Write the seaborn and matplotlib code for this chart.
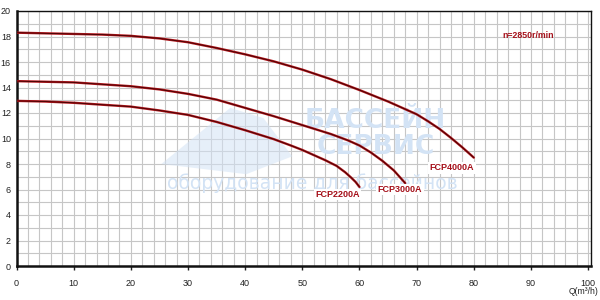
import matplotlib
matplotlib.use("Agg")
import matplotlib.pyplot as plt
from matplotlib.patches import Polygon
import seaborn as sns
import pandas as pd
import numpy as np

# ---- data ----
q_4000 = [0, 5, 10, 15, 20, 25, 30, 35, 40, 45, 50, 55, 60, 65, 70, 72, 74, 76, 78, 80]
h_4000 = [18.3, 18.25, 18.2, 18.15, 18.05, 17.85, 17.55, 17.1, 16.6, 16.05, 15.4, 14.65, 13.8, 12.9, 11.9, 11.35, 10.75, 10.05, 9.3, 8.5]

q_3000 = [0, 5, 10, 15, 20, 25, 30, 35, 40, 45, 50, 55, 58, 60, 62, 64, 66, 68]
h_3000 = [14.5, 14.45, 14.4, 14.25, 14.1, 13.85, 13.5, 13.05, 12.4, 11.75, 11.05, 10.35, 9.85, 9.45, 8.9, 8.25, 7.5, 6.5]

q_2200 = [0, 5, 10, 15, 20, 25, 30, 35, 40, 45, 48, 50, 52, 54, 56, 57.5, 58.5, 59.3, 60]
h_2200 = [12.95, 12.9, 12.8, 12.65, 12.5, 12.2, 11.85, 11.3, 10.65, 9.95, 9.45, 9.1, 8.7, 8.3, 7.85, 7.35, 6.95, 6.6, 6.2]

models = ["FCP2200A", "FCP3000A", "FCP4000A"]
label_q = [56.2, 67.1, 76.2]
label_h = [5.6, 6.0, 7.7]

x_ticks = [0, 10, 20, 30, 40, 50, 60, 70, 80, 90, 100]
y_ticks = [0, 2, 4, 6, 8, 10, 12, 14, 16, 18, 20]
speed_text = "n=2850r/min"
x_label = "Q(m³/h)"
watermark = ["БАССЕЙН", "СЕРВИС", "оборудование для бассейнов"]

df = pd.concat([
    pd.DataFrame({"Q": q_2200, "H": h_2200, "model": models[0]}),
    pd.DataFrame({"Q": q_3000, "H": h_3000, "model": models[1]}),
    pd.DataFrame({"Q": q_4000, "H": h_4000, "model": models[2]}),
])

sns.set_style("white")
plt.rcParams["font.family"] = ["Liberation Sans", "DejaVu Sans"]

fig = plt.figure(figsize=(6, 3), dpi=100)
ax = fig.add_axes([16.5 / 600, 1 - 266 / 300, (591 - 16.5) / 600, (266 - 11) / 300])

# watermark (decorative)
wm_col = "#d3e3f5"
wing = Polygon([(0.252, 0.40), (0.372, 0.62), (0.43, 0.58), (0.48, 0.43), (0.40, 0.36)],
               closed=True, transform=ax.transAxes, facecolor=wm_col, edgecolor="none",
               zorder=1, alpha=0.55)
ax.add_patch(wing)
ax.text(0.625, 0.568, watermark[0], transform=ax.transAxes, ha="center", va="center",
        fontsize=19, fontweight="bold", color=wm_col, zorder=1, family=["DejaVu Sans"])
ax.text(0.625, 0.466, watermark[1], transform=ax.transAxes, ha="center", va="center",
        fontsize=19, fontweight="bold", color=wm_col, zorder=1, family=["DejaVu Sans"])
ax.text(0.515, 0.325, watermark[2], transform=ax.transAxes, ha="center", va="center",
        fontsize=13.5, color=wm_col, zorder=1, family=["DejaVu Sans"])

for m in models:
    sub = df[df["model"] == m]
    sns.lineplot(data=sub, x="Q", y="H", ax=ax, color="#b3161c", lw=1.7, zorder=4,
                 sort=False, estimator=None, solid_joinstyle="round", solid_capstyle="round")
    sns.lineplot(data=sub, x="Q", y="H", ax=ax, color="#3d0000", lw=0.6, zorder=5,
                 sort=False, estimator=None, solid_joinstyle="round")

for m, lq, lh in zip(models, label_q, label_h):
    ax.text(lq, lh, m, ha="center", va="center", fontsize=6.5, fontweight="bold",
            color="#a5101a", zorder=6,
            bbox=dict(facecolor="white", edgecolor="none", pad=1.0))

ax.text(89.5, 18.1, speed_text, ha="center", va="center", fontsize=6.3,
        fontweight="bold", color="#a5101a", zorder=6)

ax.set_xlim(0, 100.5)
ax.set_ylim(0, 20)
ax.set_xticks(x_ticks)
ax.set_yticks(y_ticks)
ax.set_xticks(np.arange(0, 101, 2), minor=True)
ax.set_yticks(np.arange(0, 21, 1), minor=True)
ax.grid(which="both", color="#c6c6c6", lw=0.8, zorder=0)
ax.set_axisbelow(True)
ax.tick_params(axis="both", which="major", labelsize=6.5, colors="#222222")
ax.tick_params(axis="x", which="major", length=3, width=1, pad=6, direction="out", bottom=True)
ax.tick_params(axis="y", which="major", length=0, pad=4)
ax.tick_params(which="minor", length=0)
ax.set_xlabel("")
ax.set_ylabel("")

for s in ["left", "bottom"]:
    ax.spines[s].set_linewidth(1.8)
    ax.spines[s].set_color("#111111")
for s in ["top", "right"]:
    ax.spines[s].set_linewidth(1.0)
    ax.spines[s].set_color("#111111")

fig.text(584 / 600, 1 - 291 / 300, x_label, ha="center", va="center", fontsize=6.2,
         color="#222222")

fig.savefig("out.png", dpi=100, facecolor="white")
